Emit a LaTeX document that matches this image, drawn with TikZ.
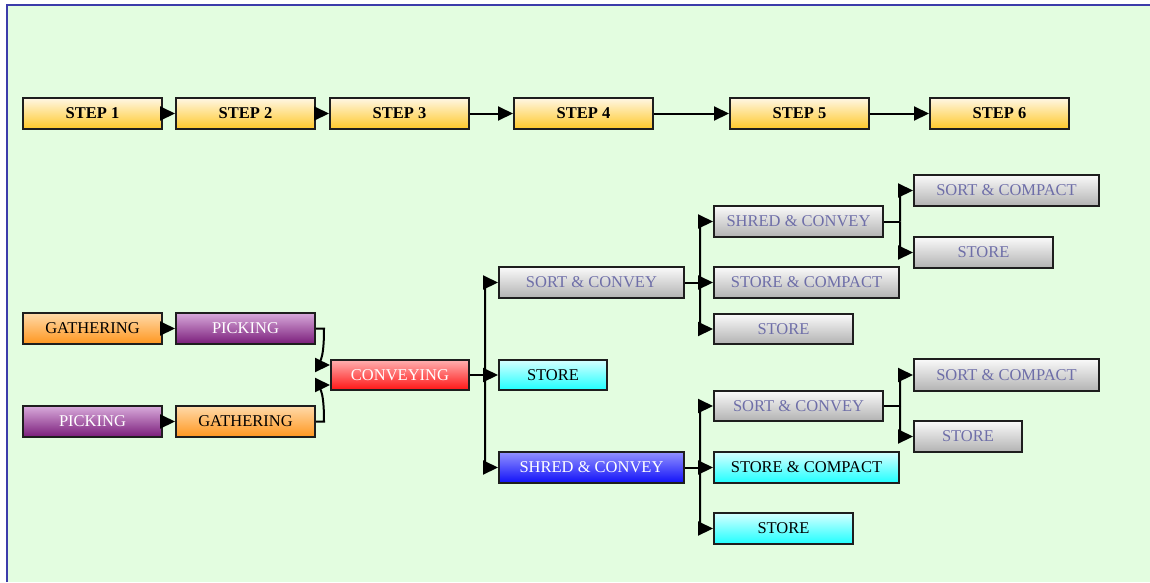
\documentclass[tikz,border=0pt]{standalone}
\usepackage{fontspec}
\setmainfont{Liberation Serif}
\usetikzlibrary{arrows.meta}
\definecolor{bg}{RGB}{227,253,224}
\definecolor{frame}{RGB}{60,60,170}
\definecolor{boxline}{RGB}{30,30,30}
\definecolor{stepT}{RGB}{255,247,228}
\definecolor{stepB}{RGB}{255,200,40}
\definecolor{orT}{RGB}{255,218,170}
\definecolor{orB}{RGB}{255,150,30}
\definecolor{puT}{RGB}{216,170,219}
\definecolor{puB}{RGB}{122,28,122}
\definecolor{reT}{RGB}{255,176,176}
\definecolor{reB}{RGB}{255,20,20}
\definecolor{blT}{RGB}{146,146,255}
\definecolor{blB}{RGB}{16,16,248}
\definecolor{cyT}{RGB}{214,255,255}
\definecolor{cyB}{RGB}{30,255,255}
\definecolor{grT}{RGB}{250,250,250}
\definecolor{grB}{RGB}{178,178,178}
\definecolor{grtext}{RGB}{110,110,168}
\tikzset{
  base/.style={draw=boxline, line width=2pt, inner sep=0pt, minimum height=31pt,
    font=\fontsize{16.5}{18}\selectfont},
  stepbox/.style={base, top color=stepT, bottom color=stepB, font=\bfseries\fontsize{16.5}{18}\selectfont},
  orbox/.style={base, top color=orT, bottom color=orB, text=black},
  pubox/.style={base, top color=puT, bottom color=puB, text=white},
  rebox/.style={base, top color=reT, bottom color=reB, text=white},
  blbox/.style={base, top color=blT, bottom color=blB, text=white},
  cybox/.style={base, top color=cyT, bottom color=cyB, text=black},
  grbox/.style={base, top color=grT, bottom color=grB, text=grtext},
  conn/.style={draw=black, line width=2pt, -{Triangle[length=15pt,width=14pt]}},
  plain/.style={draw=black, line width=2pt},
}
\begin{document}
\begin{tikzpicture}[x=1pt,y=-1pt]
\useasboundingbox (0,0) rectangle (1150,582);
\fill[white] (0,0) rectangle (1150,582);
\fill[bg] (7,5) rectangle (1150,582);
\draw[frame, line width=2.8pt] (7,582) -- (7,5) -- (1150,5);

% steps
\node[stepbox, minimum width=139pt] (s1) at (92.5,113.5) {STEP 1};
\node[stepbox, minimum width=139pt] (s2) at (245.5,113.5) {STEP 2};
\node[stepbox, minimum width=139pt] (s3) at (399.5,113.5) {STEP 3};
\node[stepbox, minimum width=139pt] (s4) at (583.5,113.5) {STEP 4};
\node[stepbox, minimum width=139pt] (s5) at (799.5,113.5) {STEP 5};
\node[stepbox, minimum width=139pt] (s6) at (999.5,113.5) {STEP 6};
\draw[conn] (s1) -- (s2);
\draw[conn] (s2) -- (s3);
\draw[conn] (s3) -- (s4);
\draw[conn] (s4) -- (s5);
\draw[conn] (s5) -- (s6);

% inputs
\node[orbox, minimum width=139pt] (g1) at (92.5,328.5) {GATHERING};
\node[pubox, minimum width=139pt] (p1) at (245.5,328.5) {PICKING};
\node[pubox, minimum width=139pt] (p2) at (92.5,421.5) {PICKING};
\node[orbox, minimum width=139pt] (g2) at (245.5,421.5) {GATHERING};
\node[rebox, minimum width=138pt, minimum height=30pt] (conv) at (400,375) {CONVEYING};
\draw[conn] (g1) -- (p1);
\draw[conn] (p2) -- (g2);
\draw[conn] (p1.east) -- ++(8,0) .. controls +(0,22) and +(-8,0) .. ([yshift=10pt]conv.west);
\draw[conn] (g2.east) -- ++(8,0) .. controls +(0,-22) and +(-8,0) .. ([yshift=-10pt]conv.west);

% level 1
\node[grbox, minimum width=185pt] (sc1) at (591.5,282.5) {SORT \& CONVEY};
\node[cybox, minimum width=108pt, minimum height=30pt] (st1) at (553,375) {STORE};
\node[blbox, minimum width=185pt] (shc1) at (591.5,467.5) {SHRED \& CONVEY};
\coordinate (j0) at ([xshift=15pt]conv.east);
\draw[plain] (conv.east) -- (j0);
\draw[conn, rounded corners=6pt] (j0) |- (sc1.west);
\draw[conn] (j0) -- (st1.west);
\draw[conn, rounded corners=6pt] (j0) |- (shc1.west);

% level 2 (upper)
\node[grbox, minimum width=169pt] (shc2) at (798.5,221.5) {SHRED \& CONVEY};
\node[grbox, minimum width=185pt] (stc1) at (806.5,282.5) {STORE \& COMPACT};
\node[grbox, minimum width=139pt, minimum height=30pt] (st2) at (783.5,329) {STORE};
\coordinate (j1) at ([xshift=15pt]sc1.east);
\draw[plain] (sc1.east) -- (j1);
\draw[conn, rounded corners=6pt] (j1) |- (shc2.west);
\draw[conn] (j1) -- (stc1.west);
\draw[conn, rounded corners=6pt] (j1) |- (st2.west);

% level 2 (lower)
\node[grbox, minimum width=169pt, minimum height=30pt] (sc2) at (798.5,406) {SORT \& CONVEY};
\node[cybox, minimum width=185pt] (stc2) at (806.5,467.5) {STORE \& COMPACT};
\node[cybox, minimum width=139pt] (st4) at (783.5,528.5) {STORE};
\coordinate (j2) at ([xshift=15pt]shc1.east);
\draw[plain] (shc1.east) -- (j2);
\draw[conn, rounded corners=6pt] (j2) |- (sc2.west);
\draw[conn] (j2) -- (stc2.west);
\draw[conn, rounded corners=6pt] (j2) |- (st4.west);

% level 3
\node[grbox, minimum width=185pt] (soc1) at (1006.5,190.5) {SORT \& COMPACT};
\node[grbox, minimum width=139pt] (st3) at (983.5,252.5) {STORE};
\coordinate (j3) at ([xshift=16pt]shc2.east);
\draw[plain] (shc2.east) -- (j3);
\draw[conn, rounded corners=6pt] (j3) |- (soc1.west);
\draw[conn, rounded corners=6pt] (j3) |- (st3.west);

\node[grbox, minimum width=185pt, minimum height=32pt] (soc2) at (1006.5,375) {SORT \& COMPACT};
\node[grbox, minimum width=108pt] (st5) at (968,436.5) {STORE};
\coordinate (j4) at ([xshift=16pt]sc2.east);
\draw[plain] (sc2.east) -- (j4);
\draw[conn, rounded corners=6pt] (j4) |- (soc2.west);
\draw[conn, rounded corners=6pt] (j4) |- (st5.west);
\end{tikzpicture}
\end{document}
